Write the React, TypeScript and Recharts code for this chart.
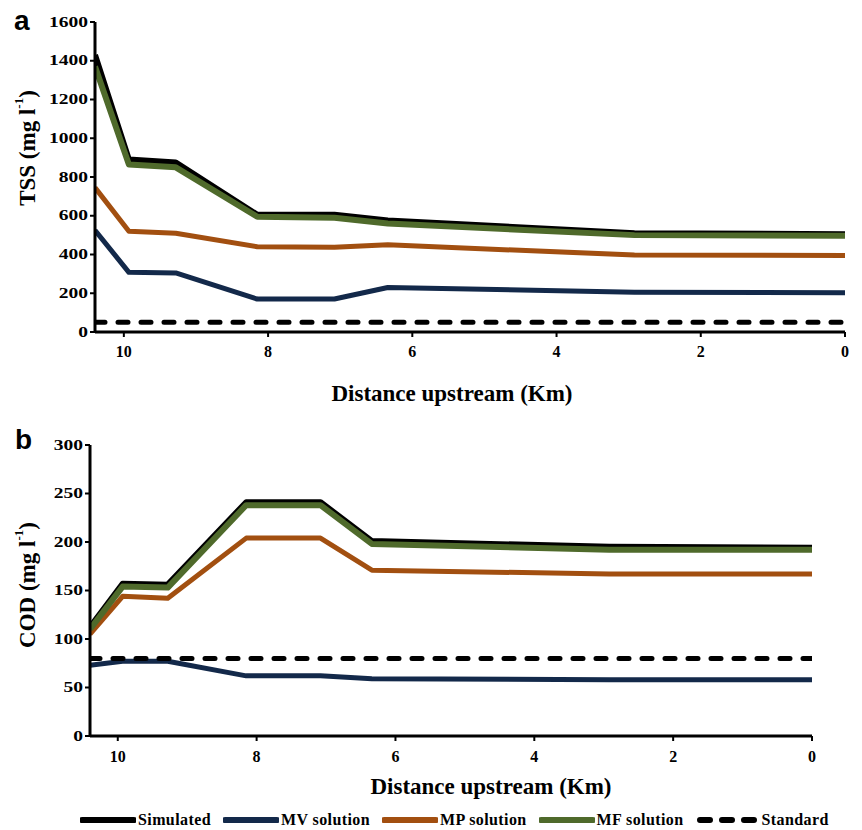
import React from 'react';
import { LineChart, Line, XAxis, YAxis, Label } from 'recharts';

// distance upstream of the sampling stations (km)
const distance = [10.4, 9.93, 9.28, 8.15, 7.08, 6.34, 2.92, 0];

// TSS (mg/l)
const tssSimulated = [1430, 890, 875, 605, 605, 575, 510, 505];
const tssMV = [525, 308, 305, 170, 170, 230, 205, 203];
const tssMP = [745, 520, 510, 440, 438, 450, 397, 395];
const tssMF = [1370, 865, 850, 595, 590, 560, 500, 497];
const tssStandard = 50;
const tssTicks = [0, 200, 400, 600, 800, 1000, 1200, 1400, 1600];

// COD (mg/l)
const codSimulated = [112, 157, 156, 241, 241, 201, 195, 194];
const codMV = [73, 77, 77, 62, 62, 59, 58, 58];
const codMP = [105, 144, 142, 204, 204, 171, 167, 167];
const codMF = [110, 154, 153, 238, 238, 198, 192, 192];
const codStandard = 80;
const codTicks = [0, 50, 100, 150, 200, 250, 300];

const distanceTicks = [0, 2, 4, 6, 8, 10];

const series = [
  { key: 'simulated', name: 'Simulated', color: '#000000', width: 6 },
  { key: 'mv', name: 'MV solution', color: '#13294a', width: 5 },
  { key: 'mp', name: 'MP solution', color: '#a24f10', width: 5 },
  { key: 'mf', name: 'MF solution', color: '#4f6a2b', width: 6 },
];

const SERIF = '"Liberation Serif", "Times New Roman", serif';

function buildRows(sim: number[], mv: number[], mp: number[], mf: number[], std: number) {
  return distance.map((d, i) => ({
    distance: d,
    simulated: sim[i],
    mv: mv[i],
    mp: mp[i],
    mf: mf[i],
    standard: std,
  }));
}

const tssRows = buildRows(tssSimulated, tssMV, tssMP, tssMF, tssStandard);
const codRows = buildRows(codSimulated, codMV, codMP, codMF, codStandard);

// y tick labels are drawn a bit wide, like the original typesetting
const YTick = (props: any) => {
  const { x, y, payload } = props;
  return (
    <text
      transform={`translate(${x},${y}) scale(1.3,1)`}
      textAnchor="end"
      dominantBaseline="central"
      fontFamily={SERIF}
      fontWeight="bold"
      fontSize={15}
      fill="#000"
    >
      {payload.value}
    </text>
  );
};

const YTitle = ({ text, cx, cy }: any) => (
  <text
    x={cx}
    y={cy}
    transform={`rotate(-90 ${cx} ${cy})`}
    textAnchor="middle"
    dominantBaseline="central"
    fontFamily={SERIF}
    fontWeight="bold"
    fontSize={23}
    fill="#000"
  >
    {text} (mg l
    <tspan dy={-9} fontSize={13}>-1</tspan>
    <tspan dy={9}>)</tspan>
  </text>
);

const XTitle = ({ cx, cy }: any) => (
  <text
    x={cx}
    y={cy}
    textAnchor="middle"
    dominantBaseline="central"
    fontFamily={SERIF}
    fontWeight="bold"
    fontSize={23}
    fill="#000"
  >
    Distance upstream (Km)
  </text>
);

function Panel({ rows, ticks, max, title, titleY, xTitleX, xTitleY, margin, height, yWidth, tickMarginX }: any) {
  return (
    <LineChart width={862} height={height} data={rows} margin={margin}>
      <XAxis
        dataKey="distance"
        type="number"
        domain={[0, 10.4]}
        ticks={distanceTicks}
        reversed
        allowDataOverflow
        height={30}
        axisLine={{ stroke: '#000', strokeWidth: 3 }}
        tickLine={{ stroke: '#000', strokeWidth: 2 }}
        tickSize={5}
        tickMargin={tickMarginX}
        tick={{ fill: '#000', fontFamily: SERIF, fontWeight: 'bold', fontSize: 16 }}
      >
        <Label content={(p: any) => <XTitle {...p} cx={xTitleX} cy={xTitleY} />} />
      </XAxis>
      <YAxis
        type="number"
        domain={[0, max]}
        ticks={ticks}
        width={yWidth}
        interval={0}
        axisLine={{ stroke: '#000', strokeWidth: 3 }}
        tickLine={{ stroke: '#000', strokeWidth: 2 }}
        tickSize={5}
        tickMargin={2}
        tick={<YTick />}
      >
        <Label content={(p: any) => <YTitle {...p} text={title} cx={27} cy={titleY} />} />
      </YAxis>
      {series.map((s) => (
        <Line
          key={s.key}
          type="linear"
          dataKey={s.key}
          name={s.name}
          stroke={s.color}
          strokeWidth={s.width}
          strokeLinejoin="round"
          dot={false}
          activeDot={false}
          isAnimationActive={false}
        />
      ))}
      <Line
        type="linear"
        dataKey="standard"
        name="Standard"
        stroke="#000"
        strokeWidth={5}
        strokeDasharray="10 13"
        strokeLinecap="round"
        dot={false}
        activeDot={false}
        isAnimationActive={false}
      />
    </LineChart>
  );
}

function LegendRow() {
  const items = [...series.map((s) => ({ name: s.name, color: s.color, dashed: false })), { name: 'Standard', color: '#000', dashed: true }];
  return (
    <div
      style={{
        position: 'absolute',
        left: 80,
        top: 810,
        display: 'flex',
        alignItems: 'center',
        gap: 12,
        fontFamily: SERIF,
        fontWeight: 'bold',
        fontSize: 16,
        letterSpacing: 0.4,
      }}
    >
      {items.map((it) => (
        <div key={it.name} style={{ display: 'flex', alignItems: 'center', gap: 2 }}>
          <svg width={it.dashed ? 64 : 56} height={20}>
            <line
              x1={it.dashed ? 4 : 2}
              y1={10}
              x2={it.dashed ? 62 : 54}
              y2={10}
              stroke={it.color}
              strokeWidth={6}
              strokeLinecap="round"
              strokeDasharray={it.dashed ? '10 12' : undefined}
            />
          </svg>
          <span>{it.name}</span>
        </div>
      ))}
    </div>
  );
}

export default function App() {
  return (
    <div style={{ position: 'absolute', left: 0, top: 0, width: 862, height: 830, background: '#fff' }}>
      <div style={{ position: 'absolute', left: 0, top: 0 }}>
        <Panel
          rows={tssRows}
          ticks={tssTicks}
          max={1600}
          title="TSS"
          titleY={148}
          xTitleX={452}
          xTitleY={393}
          height={412}
          yWidth={95}
          tickMarginX={9}
          margin={{ top: 22, right: 17, bottom: 50, left: 0 }}
        />
      </div>
      <div style={{ position: 'absolute', left: 0, top: 420 }}>
        <Panel
          rows={codRows}
          ticks={codTicks}
          max={300}
          title="COD"
          titleY={165}
          xTitleX={491}
          xTitleY={366}
          height={380}
          yWidth={90}
          tickMarginX={10}
          margin={{ top: 25, right: 50, bottom: 34, left: 0 }}
        />
      </div>
      <div style={{ position: 'absolute', left: 14, top: 5, fontFamily: '"Liberation Sans", Arial, sans-serif', fontWeight: 'bold', fontSize: 28 }}>
        a
      </div>
      <div style={{ position: 'absolute', left: 15, top: 424, fontFamily: '"Liberation Sans", Arial, sans-serif', fontWeight: 'bold', fontSize: 28 }}>
        b
      </div>
      <LegendRow />
    </div>
  );
}
